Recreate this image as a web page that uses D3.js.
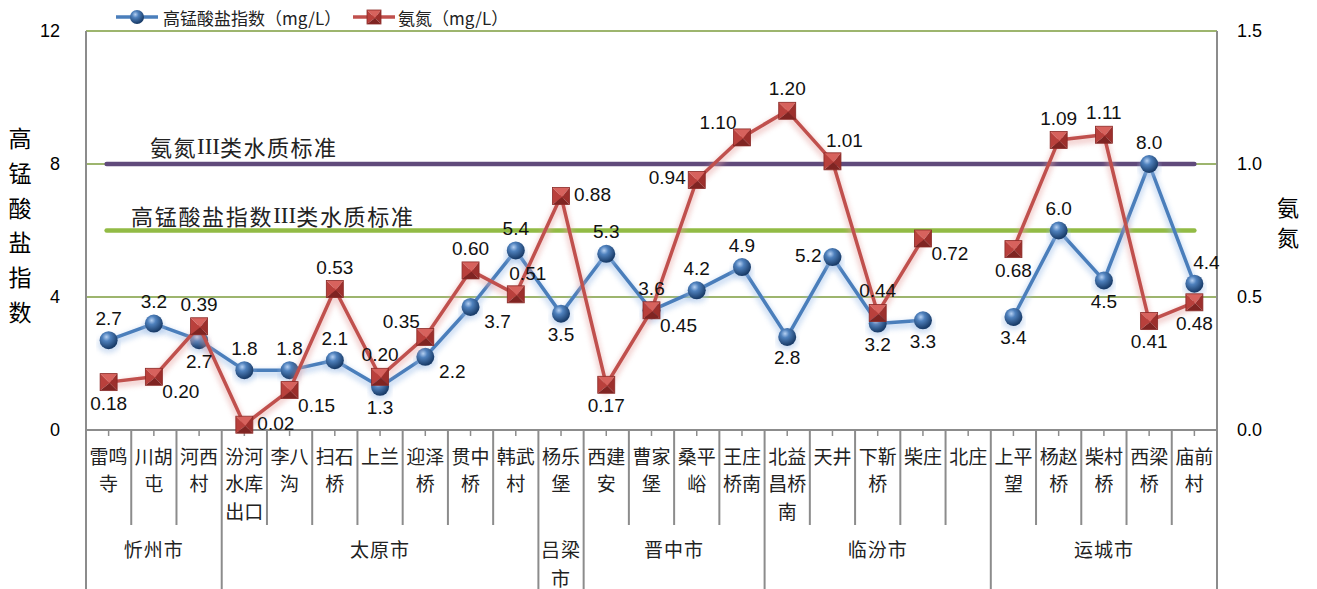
<!DOCTYPE html>
<html><head><meta charset="utf-8">
<script src="https://cdn.jsdelivr.net/npm/d3@7/dist/d3.min.js"></script>
<style>
html,body{margin:0;padding:0;background:#fff;}
svg{display:block;}
</style></head>
<body>
<svg id="chart" width="1317" height="589"></svg>
<script>
// ---------- data ----------
const categories = ["雷鸣寺","川胡屯","河西村","汾河水库出口","李八沟","扫石桥","上兰","迎泽桥","贯中桥","韩武村","杨乐堡","西建安","曹家堡","桑平峪","王庄桥南","北益昌桥南","天井","下靳桥","柴庄","北庄","上平望","杨赵桥","柴村桥","西梁桥","庙前村"];
const groups = ["忻州市","太原市","吕梁市","晋中市","临汾市","运城市"];
const groupSizes = [3,7,1,4,5,5];
const codMn = [2.7,3.2,2.7,1.8,1.8,2.1,1.3,2.2,3.7,5.4,3.5,5.3,3.6,4.2,4.9,2.8,5.2,3.2,3.3,null,3.4,6.0,4.5,8.0,4.4];
const nh3n  = [0.18,0.20,0.39,0.02,0.15,0.53,0.20,0.35,0.60,0.51,0.88,0.17,0.45,0.94,1.10,1.20,1.01,0.44,0.72,null,0.68,1.09,1.11,0.41,0.48];
const leftTicks = [0,4,8,12];
const rightTicks = [0,0.5,1.0,1.5];
const codStandard = 6;       // 高锰酸盐指数III类水质标准 (left axis)
const nh3Standard = 1.0;     // 氨氮III类水质标准 (right axis)
const seriesNames = ["高锰酸盐指数（mg/L）","氨氮（mg/L）"];
const stdLabels = [["氨氮","III","类水质标准"],["高锰酸盐指数","III","类水质标准"]];
// label placement codes
const codPos = ['t','t','b','t','t','t','b','br','br','t','b','t','t','t','t','b','l','b','b',null,'b','t','b','t','tr'];
const nh3Pos = ['b','br','t','r','br','t','t','tl','t','tr','r','b','br','l','tl','t','tr','t','br',null,'b','t','t','b','b'];

// ---------- layout ----------
const L = 86, R = 1217, T = 31, B = 430, BOTTOM = 589;
const cjk = "'Noto Sans CJK SC','Noto Sans',sans-serif";
const num = "'Liberation Sans','DejaVu Sans',sans-serif";
const serif = "'Liberation Serif','DejaVu Serif',serif";
const svg = d3.select("#chart");
const x = d3.scaleBand().domain(d3.range(categories.length)).range([L, R]).padding(0);
const cx = i => x(i) + x.bandwidth() / 2;
const yL = d3.scaleLinear().domain([0, 12]).range([B, T]);
const yR = d3.scaleLinear().domain([0, 1.5]).range([B, T]);

const defs = svg.append("defs");
const sph = defs.append("radialGradient").attr("id","sph").attr("cx","38%").attr("cy","32%").attr("r","65%");
sph.append("stop").attr("offset","0%").attr("stop-color","#b5d0f2");
sph.append("stop").attr("offset","35%").attr("stop-color","#4f81bd");
sph.append("stop").attr("offset","100%").attr("stop-color","#1a3d6a");
const blur = defs.append("filter").attr("id","blur").attr("x","-5%").attr("y","-50%").attr("width","110%").attr("height","200%");
blur.append("feGaussianBlur").attr("stdDeviation",2.5);
const blur2 = defs.append("filter").attr("id","blur2").attr("x","-5%").attr("y","-200%").attr("width","110%").attr("height","500%");
blur2.append("feGaussianBlur").attr("stdDeviation",3);

// ---------- gridlines ----------
svg.append("g").selectAll("line").data(leftTicks.filter(v => v > 0)).join("line")
  .attr("x1", L).attr("x2", R).attr("y1", d => yL(d)).attr("y2", d => yL(d))
  .attr("stroke", "#7d9c3e").attr("stroke-width", 1.6);

// ---------- axes ----------
const axL = svg.append("g").attr("transform", `translate(${L - 26},0)`)
  .call(d3.axisLeft(yL).tickValues(leftTicks).tickSize(0).tickPadding(0).tickFormat(d3.format("d")));
axL.select(".domain").remove();
axL.selectAll("text").attr("font-family", num).attr("font-size", 18).attr("fill", "#000");
const axR = svg.append("g").attr("transform", `translate(${R + 20},0)`)
  .call(d3.axisRight(yR).tickValues(rightTicks).tickSize(0).tickPadding(0).tickFormat(d3.format(".1f")));
axR.select(".domain").remove();
axR.selectAll("text").attr("font-family", num).attr("font-size", 18).attr("fill", "#000");

// axis titles
const leftTitle = "高锰酸盐指数".split("");
svg.append("g").selectAll("text").data(leftTitle).join("text")
  .attr("x", 20).attr("y", (d, i) => 137 + i * 34.8).attr("text-anchor", "middle").attr("dominant-baseline", "central")
  .attr("font-family", cjk).attr("font-size", 23).text(d => d);
svg.append("g").selectAll("text").data("氨氮".split("")).join("text")
  .attr("x", 1288).attr("y", (d, i) => 206 + i * 30).attr("text-anchor", "middle").attr("dominant-baseline", "central")
  .attr("font-family", cjk).attr("font-size", 22).text(d => d);

// ---------- category table ----------
const gray = "#8c8c8c";
const tbl = svg.append("g");
tbl.append("line").attr("x1", L).attr("x2", R).attr("y1", B).attr("y2", B).attr("stroke", gray).attr("stroke-width", 2);
tbl.append("line").attr("x1", L).attr("x2", L).attr("y1", T).attr("y2", BOTTOM).attr("stroke", gray).attr("stroke-width", 2);
tbl.append("line").attr("x1", R).attr("x2", R).attr("y1", T).attr("y2", BOTTOM).attr("stroke", gray).attr("stroke-width", 2);
tbl.selectAll(".ct").data(d3.range(categories.length)).join("line")
  .attr("x1", cx).attr("x2", cx).attr("y1", B).attr("y2", B + 6).attr("stroke", gray).attr("stroke-width", 1.5);
const groupStarts = groupSizes.map((s, i) => d3.sum(groupSizes.slice(0, i)));
const groupBounds = new Set(groupStarts.concat([categories.length]));
tbl.selectAll(".sep").data(d3.range(1, categories.length)).join("line")
  .attr("x1", i => x(i)).attr("x2", i => x(i)).attr("y1", B)
  .attr("y2", i => groupBounds.has(i) ? BOTTOM : 525)
  .attr("stroke", gray).attr("stroke-width", 2);
const chunk = s => s.match(/.{1,2}/g);
categories.forEach((c, i) => {
  chunk(c).forEach((ln, j) => {
    tbl.append("text").attr("x", cx(i)).attr("y", 455 + j * 27.5).attr("text-anchor", "middle")
      .attr("dominant-baseline", "central").attr("font-family", cjk).attr("font-size", 19).attr("fill", "#222").text(ln);
  });
});
groups.forEach((g, k) => {
  const s = groupStarts[k], n = groupSizes[k];
  const mid = (x(s) + x(s + n - 1) + x.bandwidth()) / 2;
  const lines = n === 1 ? chunk(g) : [g];
  lines.forEach((ln, j) => {
    tbl.append("text").attr("x", mid).attr("y", 548 + j * 29).attr("text-anchor", "middle")
      .attr("dominant-baseline", "central").attr("font-family", cjk).attr("font-size", 19).attr("fill", "#222")
      .attr("letter-spacing", 1).text(ln);
  });
});

// ---------- standard lines ----------
const x0 = cx(0) - 2, x1 = cx(categories.length - 1);
const std = svg.append("g");
std.append("line").attr("x1", x0).attr("x2", x1).attr("y1", yR(nh3Standard) + 6).attr("y2", yR(nh3Standard) + 6)
  .attr("stroke", "#9a9a9a").attr("stroke-width", 7).attr("opacity", 0.55).attr("filter", "url(#blur2)");
std.append("line").attr("x1", x0).attr("x2", x1).attr("y1", yR(nh3Standard)).attr("y2", yR(nh3Standard))
  .attr("stroke", "#604a7b").attr("stroke-width", 4.5).attr("stroke-linecap", "round");
std.append("line").attr("x1", x0).attr("x2", x1).attr("y1", yL(codStandard) + 4).attr("y2", yL(codStandard) + 4)
  .attr("stroke", "#c9dca0").attr("stroke-width", 10).attr("opacity", 0.6).attr("filter", "url(#blur2)");
std.append("line").attr("x1", x0).attr("x2", x1).attr("y1", yL(codStandard)).attr("y2", yL(codStandard))
  .attr("stroke", "#92bb45").attr("stroke-width", 4.5).attr("stroke-linecap", "round");
function stdText(parts, px, py, ls) {
  const t = std.append("text").attr("x", px).attr("y", py).attr("dominant-baseline", "central")
    .attr("font-family", cjk).attr("font-size", 22).attr("letter-spacing", ls).attr("fill", "#222");
  parts.forEach((p, k) => {
    const ts = t.append("tspan").text(p);
    if (k === 1) ts.attr("font-family", serif).attr("font-size", 23).attr("letter-spacing", 0);
  });
}
stdText(stdLabels[0], 150, yR(nh3Standard) - 18, 1.5);
stdText(stdLabels[1], 131, yL(codStandard) - 16, 1.7);

// ---------- series ----------
function drawLine(data, y, color, glow) {
  const line = d3.line().defined(d => d != null).x((d, i) => cx(i)).y(d => y(d));
  const g = svg.append("g");
  g.append("path").attr("d", line(data)).attr("fill", "none").attr("stroke", glow).attr("stroke-width", 8)
    .attr("opacity", 0.45).attr("transform", "translate(0,3)").attr("filter", "url(#blur)");
  g.append("path").attr("d", line(data)).attr("fill", "none").attr("stroke", color).attr("stroke-width", 3.5)
    .attr("stroke-linejoin", "round");
  return g;
}
function sphere(g, px, py, r) {
  g.append("ellipse").attr("cx", px).attr("cy", py + 4).attr("rx", r + 2).attr("ry", r).attr("fill", "#9fbde6")
    .attr("opacity", 0.45).attr("filter", "url(#blur)");
  g.append("circle").attr("cx", px).attr("cy", py).attr("r", r).attr("fill", "url(#sph)");
}
function pyramid(g, px, py, h) {
  const a = [px - h, py - h], b = [px + h, py - h], c = [px + h, py + h], d = [px - h, py + h], m = [px + 1, py + 1];
  const tri = (p, q, f) => g.append("path").attr("d", `M${p}L${q}L${m}Z`).attr("fill", f);
  tri(a, b, "#d7625d");
  tri(d, a, "#b9403c");
  tri(b, c, "#9c2f2c");
  tri(c, d, "#7f2422");
  g.append("rect").attr("x", px - h).attr("y", py - h).attr("width", 2 * h).attr("height", 2 * h)
    .attr("fill", "none").attr("stroke", "#8a2a27").attr("stroke-width", 0.8);
}

const gB = drawLine(codMn, yL, "#4a7ebb", "#9cbde8");
codMn.forEach((v, i) => { if (v != null) sphere(gB, cx(i), yL(v), 9); });
const gR = drawLine(nh3n, yR, "#c0504d", "#e6a3a1");
nh3n.forEach((v, i) => { if (v != null) pyramid(gR, cx(i), yR(v), 8.5); });

// ---------- data labels ----------
const off = {
  t: [0, -22, "middle"], b: [0, 21, "middle"], l: [-11, -2, "end"], r: [13, -1, "start"],
  tr: [12, -21, "middle"], br: [27, 15, "middle"], tl: [-24, -15, "middle"]
};
function labels(data, y, pos, fmt) {
  const g = svg.append("g");
  data.forEach((v, i) => {
    if (v == null) return;
    const o = off[pos[i]];
    g.append("text").attr("x", cx(i) + o[0]).attr("y", y(v) + o[1]).attr("text-anchor", o[2])
      .attr("dominant-baseline", "central").attr("font-family", num).attr("font-size", 19).attr("fill", "#111")
      .text(fmt(v));
  });
}
labels(codMn, yL, codPos, d3.format(".1f"));
labels(nh3n, yR, nh3Pos, d3.format(".2f"));

// ---------- legend ----------
const lg = svg.append("g");
lg.append("line").attr("x1", 116).attr("x2", 158).attr("y1", 17).attr("y2", 17).attr("stroke", "#4a7ebb").attr("stroke-width", 3.5);
lg.append("circle").attr("cx", 137).attr("cy", 17).attr("r", 7).attr("fill", "url(#sph)");
lg.append("text").attr("x", 163).attr("y", 17).attr("dominant-baseline", "central").attr("font-family", cjk)
  .attr("font-size", 17).attr("fill", "#222").text(seriesNames[0]);
lg.append("line").attr("x1", 353).attr("x2", 395).attr("y1", 17).attr("y2", 17).attr("stroke", "#c0504d").attr("stroke-width", 3.5);
pyramid(lg, 374, 17, 7);
lg.append("text").attr("x", 398).attr("y", 17).attr("dominant-baseline", "central").attr("font-family", cjk)
  .attr("font-size", 17).attr("fill", "#222").text(seriesNames[1]);
</script>
</body></html>
